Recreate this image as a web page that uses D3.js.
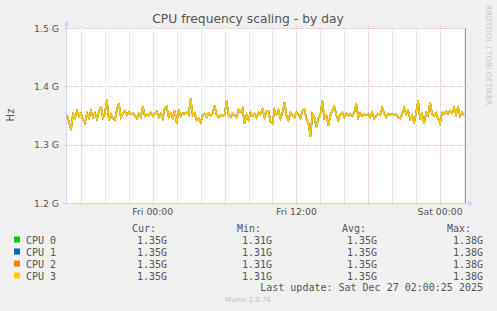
<!DOCTYPE html>
<html>
<head>
<meta charset="utf-8">
<script src="https://cdn.jsdelivr.net/npm/d3@7"></script>
<style>
  html, body { margin: 0; padding: 0; background: #F0F0F0; }
  svg { display: block; }
  text { font-family: "DejaVu Sans", sans-serif; fill: #555; }
  .mono { font-family: "DejaVu Sans Mono", monospace; font-size: 10px; fill: #555; }
</style>
</head>
<body>
<div id="chart"></div>
<script>
// CPU frequency (GHz), one sample every 10 minutes, same trace for all four cores
const freq = [
  1.350, 1.339, 1.325, 1.352, 1.346, 1.358, 1.349, 1.354, 1.343, 1.337,
  1.354, 1.346, 1.358, 1.347, 1.354, 1.344, 1.356, 1.366, 1.346, 1.354,
  1.377, 1.342, 1.352, 1.345, 1.342, 1.360, 1.371, 1.346, 1.354, 1.358,
  1.351, 1.356, 1.352, 1.354, 1.350, 1.345, 1.353, 1.347, 1.366, 1.349,
  1.352, 1.350, 1.355, 1.349, 1.353, 1.357, 1.347, 1.353, 1.345, 1.363,
  1.365, 1.347, 1.354, 1.346, 1.359, 1.337, 1.360, 1.349, 1.354, 1.353,
  1.355, 1.351, 1.379, 1.350, 1.354, 1.342, 1.345, 1.338, 1.350, 1.353,
  1.347, 1.354, 1.350, 1.354, 1.367, 1.351, 1.347, 1.351, 1.349, 1.352,
  1.375, 1.351, 1.347, 1.353, 1.350, 1.347, 1.360, 1.355, 1.362, 1.336,
  1.351, 1.342, 1.355, 1.349, 1.353, 1.346, 1.355, 1.352, 1.361, 1.347,
  1.357, 1.358, 1.339, 1.336, 1.360, 1.352, 1.359, 1.345, 1.354, 1.373,
  1.350, 1.342, 1.355, 1.351, 1.347, 1.355, 1.352, 1.345, 1.358, 1.361,
  1.344, 1.337, 1.314, 1.353, 1.347, 1.330, 1.346, 1.351, 1.375, 1.345,
  1.350, 1.333, 1.350, 1.359, 1.365, 1.351, 1.342, 1.352, 1.355, 1.347,
  1.353, 1.350, 1.353, 1.349, 1.355, 1.370, 1.346, 1.354, 1.349, 1.352,
  1.351, 1.352, 1.347, 1.355, 1.345, 1.349, 1.353, 1.351, 1.363, 1.354,
  1.347, 1.353, 1.351, 1.353, 1.351, 1.352, 1.347, 1.345, 1.353, 1.363,
  1.353, 1.358, 1.344, 1.350, 1.337, 1.355, 1.376, 1.343, 1.352, 1.336,
  1.355, 1.350, 1.373, 1.352, 1.349, 1.354, 1.345, 1.337, 1.355, 1.353,
  1.357, 1.353, 1.358, 1.354, 1.363, 1.352, 1.365, 1.349, 1.355, 1.351
];
const seriesNames = ["CPU 0", "CPU 1", "CPU 2", "CPU 3"];
const seriesColors = ["#00CC00", "#0066B3", "#FF8000", "#FFCC00"];
const curVals = ["1.35G", "1.35G", "1.35G", "1.35G"];
const minVals = ["1.31G", "1.31G", "1.31G", "1.31G"];
const avgVals = ["1.35G", "1.35G", "1.35G", "1.35G"];
const maxVals = ["1.38G", "1.38G", "1.38G", "1.38G"];
const yTicks = [1.2, 1.3, 1.4, 1.5];

const startTime = new Date(2025, 11, 25, 16, 50);
const endTime = new Date(2025, 11, 27, 2, 10);
const stepMs = 10 * 60 * 1000;

const width = 497, height = 311;
const plotLeft = 67, plotRight = 466, plotTop = 28, plotBottom = 203;

const x = d3.scaleTime().domain([startTime, endTime]).range([plotLeft, plotRight]);
const y = d3.scaleLinear().domain([1.2, 1.5]).range([plotBottom, plotTop]);

const svg = d3.select("#chart").append("svg")
    .attr("width", width)
    .attr("height", height);

// canvas
svg.append("rect")
    .attr("x", plotLeft).attr("y", plotTop)
    .attr("width", plotRight - plotLeft).attr("height", plotBottom - plotTop)
    .attr("fill", "#fff");

// minor vertical grid every 2 hours
const minor = d3.timeHour.every(2).range(startTime, endTime)
    .filter(d => d.getHours() % 6 !== 0);
svg.append("g").selectAll("line").data(minor).join("line")
    .attr("x1", d => Math.round(x(d)) + 0.5).attr("x2", d => Math.round(x(d)) + 0.5)
    .attr("y1", plotTop).attr("y2", plotBottom)
    .attr("stroke", "#d6d6d6").attr("stroke-dasharray", "1,1");

// major vertical grid every 6 hours
const major = d3.timeHour.every(6).range(startTime, endTime);
svg.append("g").selectAll("line").data(major).join("line")
    .attr("x1", d => Math.round(x(d)) + 0.5).attr("x2", d => Math.round(x(d)) + 0.5)
    .attr("y1", plotTop - 2).attr("y2", plotBottom + 2)
    .attr("stroke", "#eebcbc").attr("stroke-dasharray", "1,1");

// horizontal grid
svg.append("g").selectAll("line").data(yTicks).join("line")
    .attr("x1", plotLeft - 2).attr("x2", plotRight + 3)
    .attr("y1", d => Math.round(y(d)) + 0.5).attr("y2", d => Math.round(y(d)) + 0.5)
    .attr("stroke", "#eebcbc").attr("stroke-dasharray", "1,1");

// y labels
svg.append("g").selectAll("text").data(yTicks).join("text")
    .attr("x", 59).attr("y", d => y(d) + 3.5)
    .attr("text-anchor", "end")
    .attr("font-size", "9.3px")
    .text(d => d3.format(".1f")(d) + " G");

// x labels every 12 hours
const labels = d3.timeHour.every(12).range(startTime, endTime);
const fmt = d3.timeFormat("%a %H:%M");
svg.append("g").selectAll("text").data(labels).join("text")
    .attr("x", d => x(d)).attr("y", 215)
    .attr("text-anchor", "middle")
    .attr("font-size", "9.3px")
    .text(d => fmt(d));

// axes
svg.append("line")
    .attr("x1", plotLeft - 0.5).attr("x2", plotLeft - 0.5)
    .attr("y1", plotBottom + 2).attr("y2", 24)
    .attr("stroke", "#CFD6F8");
svg.append("path")
    .attr("d", `M${plotLeft - 3.5},26 L${plotLeft - 0.5},20 L${plotLeft + 2.5},26 Z`)
    .attr("fill", "#CFD6F8");
svg.append("line")
    .attr("x1", plotLeft - 4).attr("x2", 470)
    .attr("y1", plotBottom + 0.5).attr("y2", plotBottom + 0.5)
    .attr("stroke", "#CFD6F8");
svg.append("path")
    .attr("d", `M468,${plotBottom - 2.5} L474,${plotBottom + 0.5} L468,${plotBottom + 3.5} Z`)
    .attr("fill", "#CFD6F8");

// series lines
const line = d3.line()
    .x((d, i) => x(new Date(startTime.getTime() + i * stepMs)))
    .y(d => y(d));
seriesNames.forEach((name, k) => {
    svg.append("path")
        .datum(freq)
        .attr("d", line)
        .attr("fill", "none")
        .attr("stroke", seriesColors[k])
        .attr("stroke-width", 1.5);
});

// right edge marker
svg.append("line")
    .attr("x1", plotRight - 0.5).attr("x2", plotRight - 0.5)
    .attr("y1", plotTop).attr("y2", plotBottom)
    .attr("stroke", "#999");

// title
svg.append("text")
    .attr("x", 248).attr("y", 23)
    .attr("text-anchor", "middle")
    .attr("font-size", "12.3px")
    .text("CPU frequency scaling - by day");

// y unit label
svg.append("text")
    .attr("transform", "translate(14,115) rotate(-90)")
    .attr("text-anchor", "middle")
    .attr("font-size", "10px")
    .text("Hz");

// rrdtool watermark
svg.append("text")
    .attr("transform", "translate(486,5) rotate(90)")
    .attr("font-size", "7.8px")
    .style("fill", "#c8c8c8")
    .text("RRDTOOL / TOBI OETIKER");

// legend
const colEnds = [167, 272, 377, 483];
const headers = ["Cur:", "Min:", "Avg:", "Max:"];
const headerX = [132, 237, 342, 447];
headers.forEach((h, i) => {
    svg.append("text").attr("class", "mono")
        .attr("x", headerX[i]).attr("y", 232).text(h);
});
seriesNames.forEach((name, k) => {
    const ry = 243.5 + k * 12;
    svg.append("rect")
        .attr("x", 14).attr("y", ry - 7)
        .attr("width", 6).attr("height", 6)
        .attr("fill", seriesColors[k]);
    svg.append("text").attr("class", "mono")
        .attr("x", 26).attr("y", ry).text(name);
    [curVals, minVals, avgVals, maxVals].forEach((vals, i) => {
        svg.append("text").attr("class", "mono")
            .attr("x", colEnds[i]).attr("y", ry)
            .attr("text-anchor", "end").text(vals[k]);
    });
});
svg.append("text").attr("class", "mono")
    .attr("x", 483).attr("y", 291)
    .attr("text-anchor", "end")
    .text("Last update: Sat Dec 27 02:00:25 2025");
svg.append("text")
    .attr("x", 248).attr("y", 302)
    .attr("text-anchor", "middle")
    .attr("font-size", "7px")
    .style("fill", "#c0c0c0")
    .text("Munin 2.0.76");
</script>
</body>
</html>
